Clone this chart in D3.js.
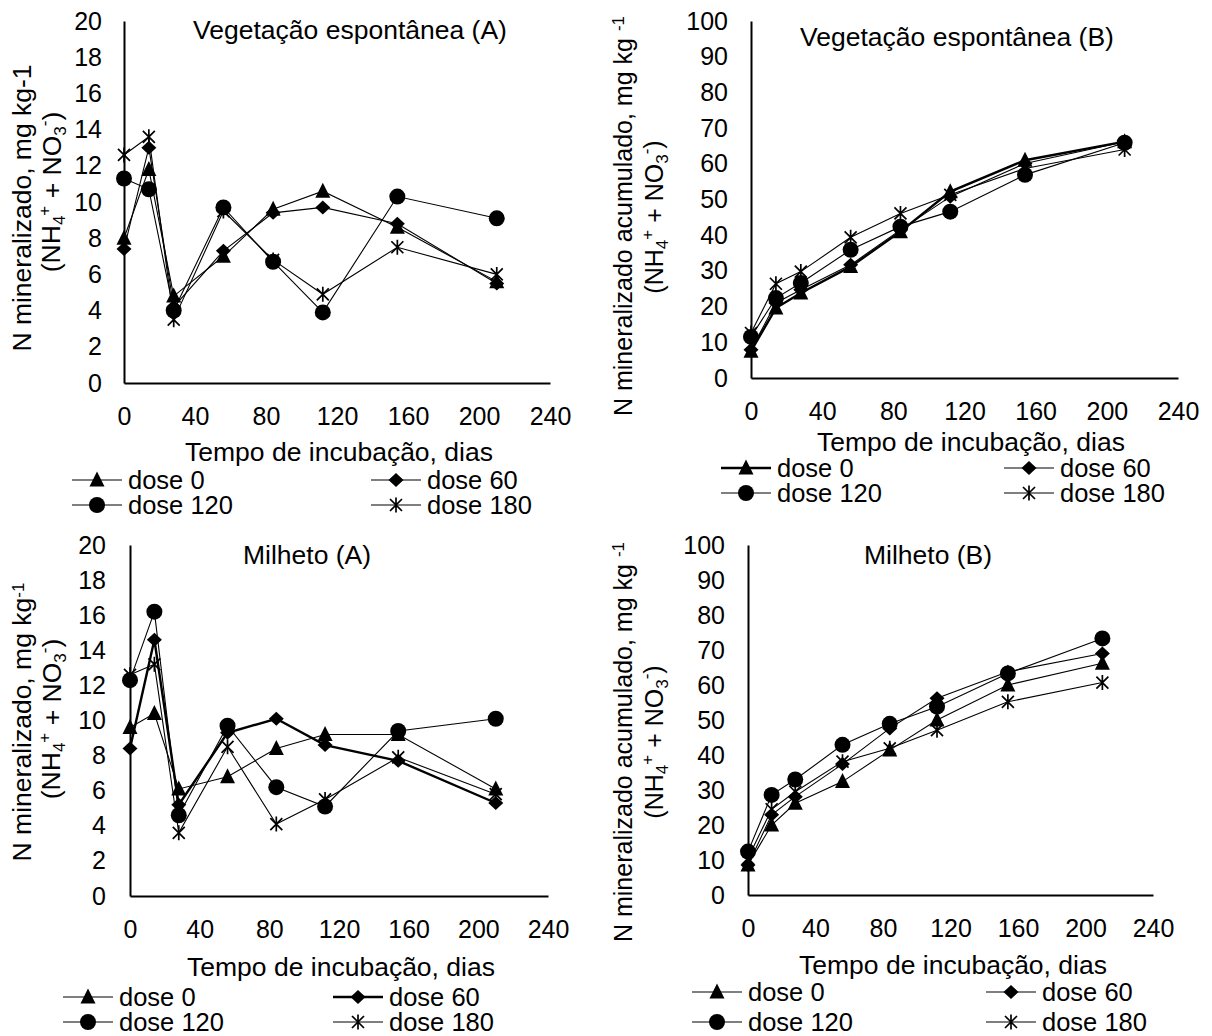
<!DOCTYPE html>
<html>
<head>
<meta charset="utf-8">
<script src="https://cdn.jsdelivr.net/npm/d3@7"></script>
<style>
  body { margin: 0; background: #fff; }
  svg text { font-family: "Liberation Sans", Arial, sans-serif; fill: #000; }
</style>
</head>
<body>
<div id="chart"></div>
<script>
// incubation days (x) and dose names
const days = [0, 14, 28, 56, 84, 112, 154, 210];
const doses = ["dose 0", "dose 60", "dose 120", "dose 180"];
const xTicks = [0, 40, 80, 120, 160, 200, 240];
const yTicksA = [0, 2, 4, 6, 8, 10, 12, 14, 16, 18, 20];
const yTicksB = [0, 10, 20, 30, 40, 50, 60, 70, 80, 90, 100];

// Vegetação espontânea (A) - N mineralizado
const vegA0 = [8.0, 11.8, 4.8, 7.0, 9.6, 10.6, 8.6, 5.6];
const vegA60 = [7.4, 13.0, 4.2, 7.3, 9.4, 9.7, 8.8, 5.5];
const vegA120 = [11.3, 10.7, 4.0, 9.7, 6.7, 3.9, 10.3, 9.1];
const vegA180 = [12.6, 13.6, 3.5, 9.5, 6.8, 4.9, 7.5, 6.0];

// Vegetação espontânea (B) - N acumulado
const vegB0 = [7.5, 19.6, 23.8, 31.2, 41.0, 52.2, 61.0, 66.2];
const vegB60 = [7.9, 21.0, 24.7, 31.7, 41.5, 50.8, 60.1, 66.2];
const vegB120 = [11.5, 22.4, 26.6, 35.9, 42.4, 46.6, 56.9, 65.9];
const vegB180 = [12.6, 26.4, 29.8, 39.4, 46.1, 51.3, 58.7, 64.0];

// Milheto (A)
const milA0 = [9.6, 10.4, 6.1, 6.8, 8.4, 9.2, 9.2, 6.1];
const milA60 = [8.4, 14.6, 5.2, 9.3, 10.1, 8.6, 7.7, 5.3];
const milA120 = [12.3, 16.2, 4.6, 9.7, 6.2, 5.1, 9.4, 10.1];
const milA180 = [12.6, 13.2, 3.6, 8.5, 4.1, 5.5, 7.9, 5.8];

// Milheto (B)
const milB0 = [8.6, 20.0, 26.2, 32.4, 41.4, 50.0, 60.0, 66.2];
const milB60 = [8.6, 22.9, 28.1, 37.4, 47.6, 56.2, 63.8, 69.0];
const milB120 = [12.4, 28.6, 33.0, 42.9, 48.9, 53.8, 63.3, 73.3];
const milB180 = [10.5, 24.5, 29.5, 38.1, 41.9, 47.1, 55.2, 60.7];

const svg = d3.select("#chart")
  .append("svg")
  .attr("width", 1212)
  .attr("height", 1036);

// marker shapes, one per dose
const markers = [
  "M0,-8.5L7.5,6.5L-7.5,6.5Z",
  "M0,-7L7.5,0L0,7L-7.5,0Z",
  d3.symbol(d3.symbolCircle, 201)(),
  "M-6,-6L6,6M-6,6L6,-6M0,-7.5L0,7.5"
];

function drawMarker(g, i, x, y) {
  const p = g.append("path")
    .attr("d", markers[i])
    .attr("transform", `translate(${x},${y})`);
  if (i === 3) {
    p.attr("fill", "none").attr("stroke", "#000").attr("stroke-width", 1.7);
  } else {
    p.attr("fill", "#000");
  }
}

function drawPanel(cfg) {
  const g = svg.append("g");

  const xScale = d3.scaleLinear()
    .domain([0, 240])
    .range([cfg.left, cfg.right]);

  const yScale = d3.scaleLinear()
    .domain([0, cfg.yMax])
    .range([cfg.bottom, cfg.top]);

  // axes
  const yAxis = g.append("g")
    .attr("transform", `translate(${cfg.left},0)`)
    .call(d3.axisLeft(yScale).tickValues(cfg.yTicks).tickSize(0).tickPadding(cfg.yPad));

  const xAxis = g.append("g")
    .attr("transform", `translate(0,${cfg.bottom})`)
    .call(d3.axisBottom(xScale).tickValues(xTicks).tickSize(0).tickPadding(24));

  [xAxis, yAxis].forEach(function(a) {
    a.attr("font-family", null).attr("font-size", null);
    a.select(".domain").attr("stroke", "#000").attr("stroke-width", 2);
    a.selectAll("text").style("font-size", "25px");
  });

  // series
  const line = d3.line()
    .x(function(d, i) { return xScale(days[i]); })
    .y(function(d) { return yScale(d); });

  cfg.series.forEach(function(s, i) {
    g.append("path")
      .datum(s)
      .attr("d", line)
      .attr("fill", "none")
      .attr("stroke", "#000")
      .attr("stroke-width", cfg.bold === i ? 2.4 : 1.1);
    s.forEach(function(v, j) {
      drawMarker(g, i, xScale(days[j]), yScale(v));
    });
  });

  // title inside plot
  g.append("text")
    .attr("x", cfg.titleX)
    .attr("y", cfg.titleY)
    .attr("dy", "0.35em")
    .attr("text-anchor", "middle")
    .style("font-size", "26.5px")
    .text(cfg.title);

  // x axis title
  g.append("text")
    .attr("x", cfg.xTitleX)
    .attr("y", cfg.xTitleY)
    .attr("dy", "0.35em")
    .attr("text-anchor", "middle")
    .style("font-size", "26.5px")
    .text("Tempo de incubação, dias");

  // y axis title, two rotated lines
  const t1 = g.append("text")
    .attr("transform", `translate(${cfg.yT1[0]},${cfg.yT1[1]}) rotate(-90)`)
    .attr("dy", "0.35em")
    .attr("text-anchor", "middle")
    .style("font-size", cfg.yFont + "px")
    .text(cfg.yLabel);
  if (cfg.unitSup) {
    t1.append("tspan").text(cfg.unitSpace ? "mg kg " : "mg kg");
    t1.append("tspan").attr("dy", "-0.45em").style("font-size", "17px").text("-1");
  }

  const t2 = g.append("text")
    .attr("transform", `translate(${cfg.yT2[0]},${cfg.yT2[1]}) rotate(-90)`)
    .attr("dy", "0.35em")
    .attr("text-anchor", "middle")
    .style("font-size", cfg.yFont + "px");
  t2.append("tspan").text("(NH");
  t2.append("tspan").attr("dy", "0.3em").style("font-size", "17px").text("4");
  t2.append("tspan").attr("dy", "-0.9em").style("font-size", "17px").text("+");
  t2.append("tspan").attr("dy", "0.4em").text(cfg.wideGap ? "  + NO" : " + NO");
  t2.append("tspan").attr("dy", "0.3em").style("font-size", "17px").text("3");
  t2.append("tspan").attr("dy", "-0.9em").style("font-size", "17px").text("-");
  t2.append("tspan").attr("dy", "0.4em").text(")");

  // legend, 2 x 2
  doses.forEach(function(name, i) {
    const col = i % 2;
    const row = Math.floor(i / 2);
    const x1 = cfg.legX[col];
    const yy = cfg.legY[row];
    g.append("line")
      .attr("x1", x1).attr("x2", x1 + 50)
      .attr("y1", yy).attr("y2", yy)
      .attr("stroke", "#000")
      .attr("stroke-width", cfg.bold === i ? 2.4 : 1.1);
    drawMarker(g, i, x1 + 25, yy);
    g.append("text")
      .attr("x", x1 + 56)
      .attr("y", yy)
      .attr("dy", "0.35em")
      .style("font-size", "25.5px")
      .text(name);
  });
}

drawPanel({
  left: 124, right: 550, top: 21, bottom: 383, yMax: 20, yTicks: yTicksA, yPad: 22,
  series: [vegA0, vegA60, vegA120, vegA180],
  title: "Vegetação espontânea (A)", titleX: 350, titleY: 30,
  xTitleX: 339, xTitleY: 452,
  yLabel: "N mineralizado, mg kg-1", unitSup: false, wideGap: true, yFont: 26.5,
  yT1: [22, 208], yT2: [51, 192],
  legX: [72, 371], legY: [480, 505]
});

drawPanel({
  left: 751, right: 1178, top: 21, bottom: 378, yMax: 100, yTicks: yTicksB, yPad: 23,
  series: [vegB0, vegB60, vegB120, vegB180], bold: 0,
  title: "Vegetação espontânea (B)", titleX: 957, titleY: 37,
  xTitleX: 971, xTitleY: 442,
  yLabel: "N mineralizado acumulado, ", unitSup: true, unitSpace: true, yFont: 25,
  yT1: [623, 216], yT2: [654, 217],
  legX: [721, 1004], legY: [468, 493]
});

drawPanel({
  left: 130, right: 548, top: 545, bottom: 896, yMax: 20, yTicks: yTicksA, yPad: 24,
  series: [milA0, milA60, milA120, milA180], bold: 1,
  title: "Milheto (A)", titleX: 307, titleY: 555,
  xTitleX: 341, xTitleY: 967,
  yLabel: "N mineralizado, ", unitSup: true, unitSpace: false, wideGap: true, yFont: 26.5,
  yT1: [22, 722], yT2: [51, 719],
  legX: [63, 333], legY: [997, 1022]
});

drawPanel({
  left: 748, right: 1153, top: 545, bottom: 895, yMax: 100, yTicks: yTicksB, yPad: 23,
  series: [milB0, milB60, milB120, milB180],
  title: "Milheto (B)", titleX: 928, titleY: 555,
  xTitleX: 953, xTitleY: 965,
  yLabel: "N mineralizado acumulado, ", unitSup: true, unitSpace: true, wideGap: true, yFont: 25,
  yT1: [623, 742], yT2: [654, 742],
  legX: [692, 986], legY: [992, 1022]
});
</script>
</body>
</html>
